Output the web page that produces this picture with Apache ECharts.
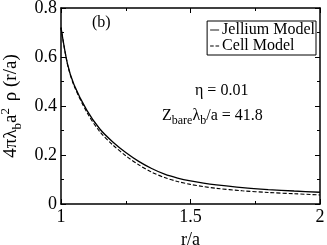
<!DOCTYPE html>
<html><head><meta charset="utf-8">
<script src="https://cdn.jsdelivr.net/npm/echarts@6/dist/echarts.min.js"></script>
<style>html,body{margin:0;padding:0;background:#fff}#c{width:327px;height:245px}</style>
</head><body><div id="c"></div>
<script>
const rValues = [1.00,1.025,1.05,1.10,1.15,1.20,1.25,1.30,1.35,1.40,1.45,1.50,1.55,1.60,1.70,1.80,1.90,2.00];
const jellium = [0.720,0.572,0.488,0.382,0.306,0.253,0.210,0.174,0.145,0.122,0.106,0.094,0.085,0.078,0.067,0.059,0.053,0.048];
const cell    = [0.720,0.570,0.484,0.374,0.295,0.241,0.197,0.160,0.130,0.108,0.092,0.080,0.071,0.064,0.054,0.047,0.042,0.037];
const xTicks = [1, 1.5, 2];
const yTicks = [0, 0.2, 0.4, 0.6, 0.8];
const seriesNames = ['Jellium Model', 'Cell Model'];

const font = 'Liberation Serif';
const chart = echarts.init(document.getElementById('c'));
const pairs = a => rValues.map((r, i) => [r, a[i]]);
const baseX = {
  type: 'value', min: xTicks[0], max: xTicks[xTicks.length-1], interval: 0.5,
  axisLine: {show: true, onZero: false, lineStyle: {color: '#000', width: 1.5}},
  axisTick: {show: true, inside: true, length: 5, lineStyle: {color: '#000', width: 1}},
  minorTick: {show: true, splitNumber: 2, length: 3, lineStyle: {color: '#000', width: 1}},
  splitLine: {show: false}
};
const baseY = {
  type: 'value', min: yTicks[0], max: yTicks[yTicks.length-1], interval: 0.2,
  axisLine: {show: true, onZero: false, lineStyle: {color: '#000', width: 1.5}},
  axisTick: {show: true, inside: true, length: 5, lineStyle: {color: '#000', width: 1}},
  minorTick: {show: true, splitNumber: 2, length: 3, lineStyle: {color: '#000', width: 1}},
  splitLine: {show: false}
};
chart.setOption({
  animation: false,
  backgroundColor: '#fff',
  grid: {left: 61, right: 7, top: 8, bottom: 41, outerBoundsMode: 'none', containLabel: false},
  xAxis: [
    Object.assign({}, baseX, {position: 'bottom',
      axisLabel: {color: '#000', fontFamily: font, fontSize: 18, margin: 4},
      name: 'r/a', nameLocation: 'middle', nameGap: 27,
      nameTextStyle: {color: '#000', fontFamily: font, fontSize: 18}}),
    Object.assign({}, baseX, {position: 'top', axisLabel: {show: false}})
  ],
  yAxis: [
    Object.assign({}, baseY, {position: 'left',
      axisLabel: {color: '#000', fontFamily: font, fontSize: 18, margin: 4},
      name: '{n|4πλ}{s|b}{n|a}{p|2}{n| ρ (r/a)}', nameLocation: 'middle', nameGap: 36, nameRotate: 90,
      nameTextStyle: {color: '#000', fontFamily: font, fontSize: 19,
        rich: {
          n: {fontFamily: font, fontSize: 19, color: '#000'},
          s: {fontFamily: font, fontSize: 13, color: '#000', verticalAlign: 'bottom', padding: [9,0,0,0]},
          p: {fontFamily: font, fontSize: 13, color: '#000', verticalAlign: 'top', padding: [0,2,12,0]}
        }}}),
    Object.assign({}, baseY, {position: 'right', axisLabel: {show: false}})
  ],
  legend: {
    right: 11, top: 21, orient: 'vertical', itemWidth: 9, itemHeight: 1.4, itemGap: 0,
    padding: [1, 1, 1, 3], borderColor: '#000', borderWidth: 1, borderRadius: 0,
    backgroundColor: '#fff',
    textStyle: {color: '#000', fontFamily: font, fontSize: 16, lineHeight: 14, padding: [0,0,0,-2]},
    data: [
      {name: seriesNames[0], icon: 'path://M0,0h10v1h-10z'},
      {name: seriesNames[1], icon: 'path://M0,0h4v1h-4zM6,0h4v1h-4z'}
    ]
  },
  series: [
    {name: seriesNames[0], type: 'line', data: pairs(jellium), smooth: 0.3, symbol: 'none',
      lineStyle: {color: '#000', width: 1.3, type: 'solid'}, itemStyle: {color: '#000'}},
    {name: seriesNames[1], type: 'line', data: pairs(cell), smooth: 0.3, symbol: 'none',
      lineStyle: {color: '#000', width: 1.1, type: [4, 2]}, itemStyle: {color: '#000'}}
  ],
  graphic: [
    {type: 'text', left: 92, top: 15, style: {text: '(b)', font: '16px "Liberation Serif"', fill: '#000'}},
    {type: 'text', left: 195, top: 83, style: {text: 'η = 0.01', font: '16px "Liberation Serif"', fill: '#000'}},
    {type: 'text', left: 162, top: 108, style: {
      text: '{n|Z}{s|bare}{n|λ}{s|b}{n|/a = 41.8}',
      rich: {
        n: {fontFamily: font, fontSize: 16, fill: '#000'},
        s: {fontFamily: font, fontSize: 12, fill: '#000', verticalAlign: 'bottom', padding: [10,0,0,0]}
      }}}
  ]
});
</script></body></html>
